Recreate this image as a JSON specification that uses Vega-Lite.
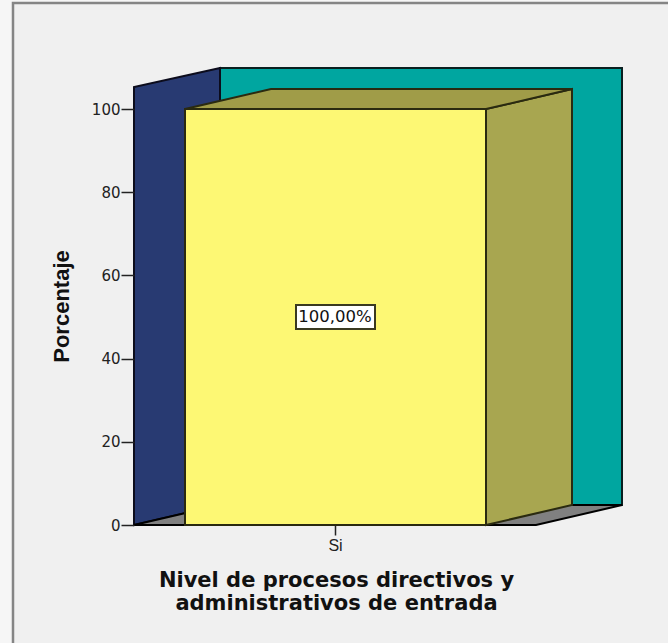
{
  "$schema": "https://vega.github.io/schema/vega-lite/v6.json",
  "width": 488,
  "height": 457,
  "autosize": {"type": "none"},
  "padding": {"left": 134, "top": 68, "right": 46, "bottom": 118},
  "background": "#f6f6f6",
  "config": {"view": {"stroke": null}},
  "datasets": {
    "panel": [{"x": -121, "x2": 560, "y": -40, "y2": 125.5}],
    "backWall": [{"x": 86, "x2": 488, "y": 4.8, "y2": 109.86}],
    "leftWall": [
      {"x": 0, "y": 0, "y2": 105.3},
      {"x": 86, "y": 4.8, "y2": 109.86}
    ],
    "floor": [
      {"x": 0, "y": 0, "y2": 0},
      {"x": 86, "y": 0, "y2": 4.8},
      {"x": 402, "y": 0, "y2": 4.8},
      {"x": 488, "y": 4.8, "y2": 4.8}
    ],
    "barSide": [
      {"x": 352, "y": 0, "y2": 100},
      {"x": 438, "y": 4.8, "y2": 104.8}
    ],
    "barTop": [
      {"x": 51, "y": 100, "y2": 100},
      {"x": 137, "y": 100, "y2": 104.8},
      {"x": 352, "y": 100, "y2": 104.8},
      {"x": 438, "y": 104.8, "y2": 104.8}
    ],
    "bar": [{"category": "Si", "x": 51, "x2": 352, "y": 100, "y2": 0}],
    "labelBox": [{"x": 162, "x2": 241, "y": 47.1, "y2": 52.9}],
    "label": [{"x": 201, "y": 50, "text": "100,00%"}]
  },
  "encoding": {
    "x": {
      "field": "x",
      "type": "quantitative",
      "scale": {"domain": [0, 488], "nice": false, "zero": false},
      "axis": {
        "values": [201],
        "labelExpr": "'Si'",
        "domain": false,
        "grid": false,
        "zindex": 1,
        "tickColor": "#222222",
        "tickSize": 10,
        "tickWidth": 1.5,
        "labelFont": "Liberation Sans",
        "labelFontSize": 16,
        "labelColor": "#222222",
        "labelPadding": 2,
        "title": ["Nivel de procesos directivos y", "administrativos de entrada"],
        "titleFont": "DejaVu Sans",
        "titleFontWeight": "bold",
        "titleFontSize": 21,
        "titleColor": "#111111",
        "titleLineHeight": 23,
        "titleX": 202,
        "titleY": 61,
        "titleAlign": "center",
        "titleBaseline": "alphabetic"
      }
    },
    "y": {
      "field": "y",
      "type": "quantitative",
      "scale": {"domain": [0, 109.86], "nice": false, "zero": false},
      "axis": {
        "values": [0, 20, 40, 60, 80, 100],
        "domain": false,
        "grid": false,
        "zindex": 1,
        "tickColor": "#222222",
        "tickSize": 13,
        "tickWidth": 1.5,
        "labelFont": "DejaVu Sans",
        "labelFontSize": 15,
        "labelColor": "#222222",
        "labelPadding": 1,
        "title": "Porcentaje",
        "titleFont": "Liberation Sans",
        "titleFontWeight": "bold",
        "titleFontSize": 22,
        "titleColor": "#111111",
        "titleX": -66,
        "titleY": 238,
        "titleAlign": "center",
        "titleBaseline": "alphabetic",
        "titleAngle": 270
      }
    }
  },
  "layer": [
    {
      "data": {"name": "panel"},
      "mark": {"type": "rect", "fill": "#f0f0f0", "stroke": "#858585", "strokeWidth": 2.5},
      "encoding": {"x2": {"field": "x2"}, "y2": {"field": "y2"}}
    },
    {
      "data": {"name": "backWall"},
      "mark": {"type": "rect", "fill": "#00a6a0", "stroke": "#0a2020", "strokeWidth": 2},
      "encoding": {"x2": {"field": "x2"}, "y2": {"field": "y2"}}
    },
    {
      "data": {"name": "leftWall"},
      "mark": {"type": "area", "fill": "#283a72", "stroke": "#0c0c1c", "strokeWidth": 2},
      "encoding": {"y2": {"field": "y2"}}
    },
    {
      "data": {"name": "floor"},
      "mark": {"type": "area", "fill": "#808080", "stroke": "#000000", "strokeWidth": 2},
      "encoding": {"y2": {"field": "y2"}}
    },
    {
      "data": {"name": "barSide"},
      "mark": {"type": "area", "fill": "#a8a650", "stroke": "#2a2a10", "strokeWidth": 2},
      "encoding": {"y2": {"field": "y2"}}
    },
    {
      "data": {"name": "barTop"},
      "mark": {"type": "area", "fill": "#a09c48", "stroke": "#2a2a10", "strokeWidth": 2},
      "encoding": {"y2": {"field": "y2"}}
    },
    {
      "data": {"name": "bar"},
      "mark": {"type": "rect", "fill": "#fdf874", "stroke": "#2a2a10", "strokeWidth": 2},
      "encoding": {"x2": {"field": "x2"}, "y2": {"field": "y2"}}
    },
    {
      "data": {"name": "labelBox"},
      "mark": {"type": "rect", "fill": "#ffffff", "stroke": "#3a3a20", "strokeWidth": 2},
      "encoding": {"x2": {"field": "x2"}, "y2": {"field": "y2"}}
    },
    {
      "data": {"name": "label"},
      "mark": {"type": "text", "font": "DejaVu Sans", "fontSize": 16.5, "color": "#111111", "align": "center", "baseline": "middle"},
      "encoding": {"text": {"field": "text"}}
    }
  ]
}
